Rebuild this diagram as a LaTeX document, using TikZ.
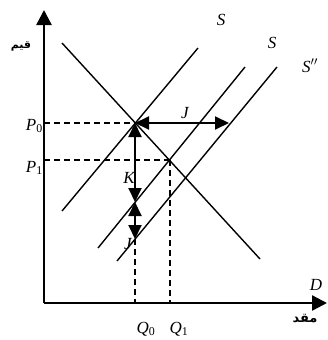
\documentclass[tikz,border=0pt]{standalone}
\usepackage{fontspec}
\setmainfont{Liberation Serif}
\newfontfamily\arabicfont[Script=Arabic]{DejaVu Sans}
\TeXXeTstate=1
\usetikzlibrary{arrows.meta}
\begin{document}
\begin{tikzpicture}[x=1pt,y=-1pt,
  axisline/.style={line width=2.4pt,-{Triangle[length=15pt,width=15pt]}},
  curve/.style={line width=1.4pt},
  guide/.style={line width=1.4pt,dash pattern=on 6pt off 4pt},
  shiftarrow/.style={line width=2pt,{Triangle[length=14pt,width=13pt]}-{Triangle[length=14pt,width=13pt]}},
  lbl/.style={font=\fontsize{17}{17}\selectfont\itshape,inner sep=0pt,anchor=base},
  arlbl/.style={inner sep=0pt}]
\useasboundingbox (0,0) rectangle (327,340);
% points
\coordinate (O) at (44,303);
\coordinate (Ytop) at (44,10);
\coordinate (Xend) at (327,303);
\coordinate (P0) at (135,123);
\coordinate (Q1pt) at (170,160);
\coordinate (K1) at (135,202);
\coordinate (K2) at (135,239);
\coordinate (Jend) at (229,123);
\coordinate (P0ax) at (44,123);
\coordinate (P1ax) at (44,160);
\coordinate (Q0ax) at (135,303);
\coordinate (Q1ax) at (170,303);
\coordinate (Da) at (62,43);
\coordinate (Db) at (260,259);
\coordinate (S1a) at (62,211);
\coordinate (S1b) at (198,48);
\coordinate (S2a) at (98,248);
\coordinate (S2b) at (245,67);
\coordinate (S3a) at (117,261);
\coordinate (S3b) at (277,67);
% curves
\draw[curve] (Da) -- (Db);
\draw[curve] (S1a) -- (S1b);
\draw[curve] (S2a) -- (S2b);
\draw[curve] (S3a) -- (S3b);
% guides
\draw[guide] (P0ax) -- (P0);
\draw[guide] (P1ax) -- (Q1pt);
\draw[guide] (Q1pt) -- (Q1ax);
\draw[guide] (K2) -- (Q0ax);
% axes
\draw[axisline] (O) -- (Ytop);
\draw[axisline] (O) -- (Xend);
% shift arrows
\draw[shiftarrow] (P0) -- (Jend);
\draw[shiftarrow] (P0) -- (K1);
\draw[shiftarrow] (K1) -- (K2);
% labels
\node[lbl] (lS1) at (221,25) {S};
\node[lbl] (lS2) at (272,48) {S};
\node[lbl,anchor=base west] (lS3) at (302,72) {S$''$};
\node[lbl] (lD) at (316,290) {D};
\node[lbl] (lJ) at (185,118) {J};
\node[lbl] (lK) at (129,183) {K};
\node[lbl] (lJ2) at (128,249) {J};
\node[lbl,anchor=base east] (lP0) at (43,130) {P\textsubscript{\upshape 0}};
\node[lbl,anchor=base east] (lP1) at (43,172) {P\textsubscript{\upshape 1}};
\node[lbl] (lQ0) at (146,333) {Q\textsubscript{\upshape 0}};
\node[lbl] (lQ1) at (179,333) {Q\textsubscript{\upshape 1}};
\node[arlbl] (lprice) at (21,46) {\fontsize{11}{11}\selectfont\arabicfont\bfseries\beginR قیم\endR};
\node[arlbl] (lqty) at (305,319) {\fontsize{13}{13}\selectfont\arabicfont\bfseries\beginR مقد\endR};
\end{tikzpicture}
\end{document}
